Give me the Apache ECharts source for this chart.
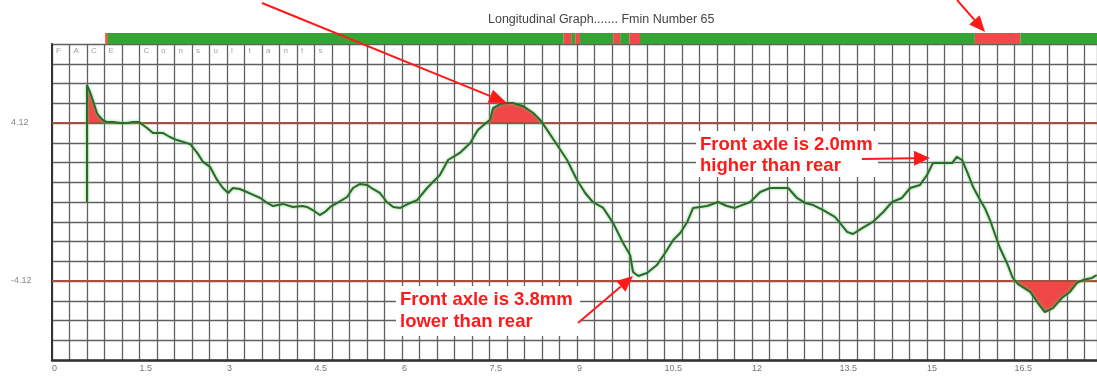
<!DOCTYPE html>
<html><head><meta charset="utf-8">
<script src="https://cdn.jsdelivr.net/npm/echarts@6/dist/echarts.min.js"></script>
<style>html,body{margin:0;padding:0;background:#fff}#c{width:1097px;height:379px}</style>
</head><body><div id="c"></div>
<script>
const titleText = 'Longitudinal Graph....... Fmin Number 65';
// distance along the slideway and the measured height (mm)
const distance = [0.60,0.60,0.65,0.70,0.77,0.82,0.87,0.94,1.05,1.17,1.29,1.39,1.49,1.63,1.73,1.90,2.02,2.14,2.37,2.49,2.59,2.71,2.83,2.93,3.02,3.10,3.22,3.34,3.45,3.57,3.69,3.79,3.96,4.13,4.29,4.37,4.47,4.59,4.68,4.77,4.89,5.06,5.16,5.28,5.40,5.50,5.62,5.74,5.85,5.97,6.14,6.26,6.43,6.53,6.65,6.79,6.99,7.17,7.30,7.46,7.51,7.56,7.68,7.80,7.90,8.07,8.25,8.37,8.49,8.66,8.83,9.00,9.14,9.27,9.45,9.62,9.79,9.91,9.96,10.05,10.20,10.37,10.51,10.65,10.77,10.89,10.99,11.11,11.23,11.42,11.57,11.71,11.83,11.97,12.14,12.31,12.48,12.62,12.77,12.91,13.05,13.22,13.42,13.51,13.63,13.73,13.89,14.07,14.25,14.40,14.57,14.71,14.88,15.00,15.10,15.27,15.43,15.51,15.60,15.69,15.79,15.91,15.99,16.08,16.17,16.25,16.37,16.47,16.56,16.77,16.90,17.02,17.16,17.31,17.45,17.57,17.67,17.83,17.91];
const height = [0,6.10,5.74,5.32,4.64,4.43,4.28,4.17,4.17,4.12,4.12,4.17,4.17,3.86,3.60,3.60,3.39,3.23,3.02,2.56,2.09,1.83,1.15,0.73,0.47,0.73,0.68,0.52,0.37,0.21,-0.05,-0.21,-0.10,-0.26,-0.21,-0.26,-0.42,-0.68,-0.52,-0.26,-0.05,0.26,0.73,0.94,0.89,0.68,0.47,0,-0.26,-0.31,-0.05,0.10,0.73,1.04,1.41,2.19,2.56,3.08,3.75,4.17,4.28,4.90,5.11,5.16,5.16,5.01,4.64,4.28,3.75,2.97,2.19,1.15,0.47,0,-0.31,-1.10,-2.14,-2.76,-3.65,-3.86,-3.70,-3.29,-2.66,-1.98,-1.62,-1.04,-0.31,-0.26,-0.21,0,-0.21,-0.31,-0.16,0,0.52,0.73,0.73,0.73,0.21,-0.05,-0.16,-0.42,-0.78,-1.10,-1.56,-1.67,-1.36,-1.04,-0.52,0,0.21,0.73,0.89,1.41,2.03,2.03,2.03,2.35,2.19,1.56,0.78,0.10,-0.31,-0.94,-1.72,-2.40,-3.18,-3.96,-4.28,-4.69,-5.27,-5.74,-5.53,-5.01,-4.69,-4.22,-4.07,-3.96,-3.81];
const limits = [4.12, -4.12];
const xTickLabels = ['0','1.5','3','4.5','6','7.5','9','10.5','12','13.5','15','16.5'];
const yTickLabels = ['4.12','-4.12'];
const gridLetters = ['F','A','C','E','','C','o','n','s','u','l','t','a','n','t','s'];
// status strip: [start, end, code] code 0 = in tolerance, 1 = out, 2 = start marker
const statusSegments = [[0.91,0.96,2],[0.96,8.77,0],[8.77,8.90,1],[8.90,8.97,0],[8.97,9.05,1],[9.05,9.62,0],[9.62,9.74,1],[9.74,9.90,0],[9.90,10.08,1],[10.08,15.82,0],[15.82,16.60,1],[16.60,17.914,0]];
const noteLow = ['Front axle is 3.8mm','lower than rear'];
const noteHigh = ['Front axle is 2.0mm','higher than rear'];

const X_MAX = 17.914, Y_MAX = 8.24, X_STEP = 0.3, Y_STEP = 1.03, LABEL_STEP = 1.5;
const statusColors = ['#34a534','#f04a4a','#d9683c'];

function clipTo(lim, above) {
  const out = [];
  for (let i = 0; i < distance.length; i++) {
    if (i > 0) {
      const a = height[i-1] - lim, b = height[i] - lim;
      if (a * b < 0) {
        const t = a / (a - b);
        out.push([distance[i-1] + t * (distance[i] - distance[i-1]), lim]);
      }
    }
    out.push([distance[i], above ? Math.max(height[i], lim) : Math.min(height[i], lim)]);
  }
  return out;
}
const profile = distance.map((d, i) => [d, height[i]]);

const chart = echarts.init(document.getElementById('c'), null, {renderer: 'canvas'});
const font = 'Liberation Sans, Arial, sans-serif';

function arrow(x1, y1, x2, y2, len, half) {
  const dx = x2 - x1, dy = y2 - y1, L = Math.hypot(dx, dy);
  const ux = dx / L, uy = dy / L;
  const bx = x2 - ux * len, by = y2 - uy * len;
  const px = -uy * half, py = ux * half;
  return [
    {type: 'line', z: 100, shape: {x1, y1, x2: bx, y2: by}, style: {stroke: '#ff1a1a', lineWidth: 2}},
    {type: 'polygon', z: 100, shape: {points: [[x2, y2], [bx + px, by + py], [bx - px, by - py]]}, style: {fill: '#ff1a1a'}}
  ];
}
function note(lines, x, y, w, h, lh) {
  return [
    {type: 'rect', z: 90, shape: {x: x - 4, y: y - 3, width: w, height: h}, style: {fill: '#fff'}},
    {type: 'text', z: 95, x: x, y: y, style: {text: lines.join('\n'), fill: '#ff1a1a', font: 'bold 18.5px ' + font, lineHeight: lh, verticalAlign: 'top', align: 'left'}}
  ];
}

const option = {
  animation: false,
  backgroundColor: '#fff',
  title: {text: titleText, left: 483, top: 8, textStyle: {fontSize: 12.5, fontWeight: 'normal', color: '#444', fontFamily: font}},
  grid: [
    {left: 52, right: 0, top: 44, bottom: 19},
    {left: 52, right: 0, top: 33, height: 11}
  ],
  xAxis: [
    {type: 'value', gridIndex: 0, min: 0, max: X_MAX, interval: X_STEP,
     axisLine: {show: true, onZero: false, lineStyle: {color: '#333', width: 2.5}},
     axisTick: {show: false},
     splitLine: {show: true, lineStyle: {color: '#606060', width: 1.3}},
     axisLabel: {show: true, align: 'left', margin: 4, fontSize: 9, color: '#777', fontFamily: font, showMaxLabel: false,
       formatter: v => { const k = Math.round(v / LABEL_STEP); return Math.abs(v - k * LABEL_STEP) < 1e-6 && k < xTickLabels.length ? xTickLabels[k] : ''; }}},
    {type: 'value', gridIndex: 1, min: 0, max: X_MAX, show: false}
  ],
  yAxis: [
    {type: 'value', gridIndex: 0, min: -Y_MAX, max: Y_MAX, interval: Y_STEP,
     axisLine: {show: true, onZero: false, lineStyle: {color: '#333', width: 2}},
     axisTick: {show: false},
     splitLine: {show: true, lineStyle: {color: '#606060', width: 1.3}},
     axisLabel: {show: true, align: 'left', margin: 41, fontSize: 9, color: '#888', fontFamily: font,
       formatter: v => { const m = yTickLabels.find(t => Math.abs(Number(t) - v) < 1e-6); return m || ''; }}},
    {type: 'value', gridIndex: 1, min: 0, max: 1, show: false}
  ],
  series: [
    {type: 'custom', xAxisIndex: 1, yAxisIndex: 1, data: statusSegments, silent: true,
     renderItem: (params, api) => {
       const a = api.coord([api.value(0), 1]);
       const b = api.coord([api.value(1), 0]);
       return {type: 'rect', shape: {x: a[0], y: a[1], width: b[0] - a[0], height: b[1] - a[1]}, style: {fill: statusColors[api.value(2)]}};
     }},
    {type: 'line', data: clipTo(limits[0], true), showSymbol: false, silent: true, z: 3,
     lineStyle: {width: 0, opacity: 0}, areaStyle: {color: '#f04848', opacity: 1, origin: limits[0]}},
    {type: 'line', data: clipTo(limits[1], false), showSymbol: false, silent: true, z: 3,
     lineStyle: {width: 0, opacity: 0}, areaStyle: {color: '#f04848', opacity: 1, origin: limits[1]}},
    {type: 'line', data: profile, showSymbol: false, silent: true, z: 5,
     lineStyle: {color: '#2c6a2c', width: 2, shadowColor: 'rgba(110,200,110,0.9)', shadowBlur: 3},
     markLine: {silent: true, symbol: 'none', label: {show: false},
       lineStyle: {color: '#a8503f', width: 2, type: 'solid'},
       data: limits.map(v => ({yAxis: v}))}},
    {type: 'scatter', data: gridLetters.map((c, i) => [i * X_STEP, Y_MAX, c]).filter(d => d[2]), symbolSize: 0, clip: false, silent: true,
     label: {show: true, position: [4, 3], formatter: p => p.value[2], fontSize: 8, color: '#888', fontFamily: font}}
  ],
  graphic: [
    ...note(noteLow, 400, 289, 184, 50, 22),
    ...note(noteHigh, 700, 134, 182, 46, 21),
    ...arrow(262, 3, 507, 103, 18, 7),
    ...arrow(957, 0, 985, 32, 16, 7),
    ...arrow(578, 323, 633, 276, 16, 7),
    ...arrow(862, 159, 930, 158, 16, 7.5)
  ]
};
chart.setOption(option);
</script></body></html>
